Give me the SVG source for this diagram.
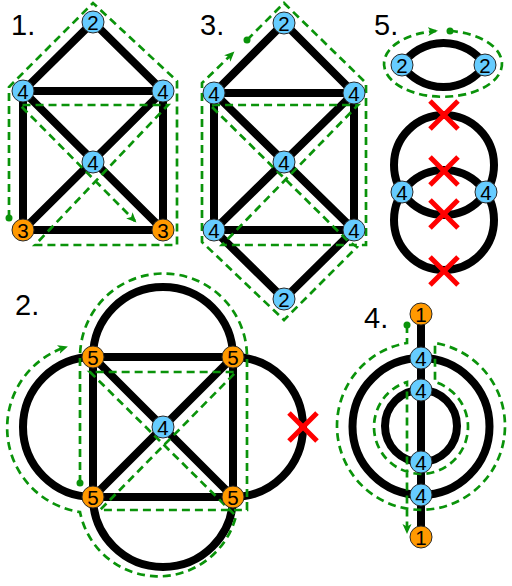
<svg xmlns="http://www.w3.org/2000/svg" xmlns:xlink="http://www.w3.org/1999/xlink" width="512" height="586" viewBox="0 0 512 586">
<style>
.e{stroke:#000;stroke-width:8;fill:none}
.g{stroke:#0a930a;stroke-width:2.7;stroke-dasharray:8 5;fill:none}
.dot{fill:#0a930a}
.b{fill:#66ccff;stroke:#2a2a2a;stroke-width:1}
.o{fill:#ff9900;stroke:#2a2a2a;stroke-width:1}
.n{font-family:"Liberation Sans",Arial,sans-serif;font-size:20.5px;text-anchor:middle;fill:#000}
.lbl{font-family:"Liberation Sans",Arial,sans-serif;font-size:29px;fill:#000}
.x{stroke:#ff0000;stroke-width:5;fill:none}
</style>
<defs>
<marker id="arr" markerUnits="userSpaceOnUse" markerWidth="11" markerHeight="11" refX="8" refY="5.5" orient="auto">
<path d="M0,1 L10,5.5 L0,10 L2.5,5.5 z" fill="#0a930a" stroke="none"/>
</marker>
<path id="xm" class="x" d="M-14,-14 L14,14 M14,-14 L-14,14"/>
</defs>
<rect width="512" height="586" fill="#fff"/>

<g id="labels">
<text class="lbl" x="11" y="35">1.</text>
<text class="lbl" x="200" y="35">3.</text>
<text class="lbl" x="374" y="35">5.</text>
<text class="lbl" x="15" y="315">2.</text>
<text class="lbl" x="364" y="328">4.</text>
</g>

<g id="edges">
<path class="e" d="M93,22 L23,91 M93,22 L163,91 M23,91 H163 M23,91 V230 M163,91 V230 M23,91 L163,230 M163,91 L23,230 M23,230 H163"/>
<path class="e" d="M284,23 L214,93 M284,23 L354,93 M214,93 H354 M214,93 V230 M354,93 V230 M214,93 L354,230 M354,93 L214,230 M214,230 H354 M214,230 L284,299 M354,230 L284,299"/>
<path class="e" d="M402,65 A50,50 0 0,1 485,65 M402,65 A50,50 0 0,0 485,65"/>
<circle class="e" cx="444" cy="165" r="50"/>
<circle class="e" cx="444" cy="220" r="50"/>
<path class="e" d="M93,357 H233 V497 H93 Z M93,357 L233,497 M233,357 L93,497"/>
<path class="e" d="M93,357 A70,70 0 0,1 233,357 M93,357 A70,70 0 0,0 93,497 M93,497 A70,70 0 0,0 233,497 M233,357 A70,70 0 0,1 233,497"/>
<path class="e" d="M421,314 V537"/>
<circle class="e" cx="421" cy="426.5" r="68.5"/>
<circle class="e" cx="421" cy="426" r="36"/>
</g>

<g id="paths">
<path class="g" marker-end="url(#arr)" d="M9,218 V87 L93,3 L177,81 V245 H35 L168,105 H20 L135,221"/>
<circle class="dot" cx="9" cy="218" r="3.5"/>
<path class="g" marker-end="url(#arr)" d="M247,40 L284,3 L366,83 V245 H222 L358,105 H210 L348,241 L357,247 L284,320 L202,242 V83 L233,53"/>
<circle class="dot" cx="247" cy="40" r="3.5"/>
<path class="g" marker-end="url(#arr)" d="M450,31 A59,33 0 1,1 436,31"/>
<circle class="dot" cx="450" cy="31" r="3.5"/>
<path class="g" marker-end="url(#arr)" d="M80,483 V357 A83.5,83.5 0 0,1 247,357 V510 H100 L236,372 H90 L236,516 A80,80 0 0,1 80,512 A85,85 0 0,1 66,347"/>
<circle class="dot" cx="80" cy="483" r="3.5"/>
<path class="g" marker-end="url(#arr)" d="M407,325 V343 A84,84 0 1,0 435,343 V382 A47,47 0 1,1 407,382 V532"/>
<circle class="dot" cx="407" cy="325" r="3.5"/>
</g>

<g id="p1-n1"><circle class="b" cx="93" cy="22" r="11"/><text class="n" x="93" y="29.5">2</text></g>
<g id="p1-n2"><circle class="b" cx="23" cy="91" r="11"/><text class="n" x="23" y="98.5">4</text></g>
<g id="p1-n3"><circle class="b" cx="163" cy="91" r="11"/><text class="n" x="163" y="98.5">4</text></g>
<g id="p1-n4"><circle class="b" cx="93" cy="162" r="11"/><text class="n" x="93" y="169.5">4</text></g>
<g id="p1-n5"><circle class="o" cx="23" cy="230" r="11"/><text class="n" x="23" y="237.5">3</text></g>
<g id="p1-n6"><circle class="o" cx="163" cy="230" r="11"/><text class="n" x="163" y="237.5">3</text></g>

<g id="p3-n1"><circle class="b" cx="284" cy="23" r="11"/><text class="n" x="284" y="30.5">2</text></g>
<g id="p3-n2"><circle class="b" cx="214" cy="93" r="11"/><text class="n" x="214" y="100.5">4</text></g>
<g id="p3-n3"><circle class="b" cx="354" cy="93" r="11"/><text class="n" x="354" y="100.5">4</text></g>
<g id="p3-n4"><circle class="b" cx="284" cy="162" r="11"/><text class="n" x="284" y="169.5">4</text></g>
<g id="p3-n5"><circle class="b" cx="214" cy="230" r="11"/><text class="n" x="214" y="237.5">4</text></g>
<g id="p3-n6"><circle class="b" cx="354" cy="230" r="11"/><text class="n" x="354" y="237.5">4</text></g>
<g id="p3-n7"><circle class="b" cx="284" cy="299" r="11"/><text class="n" x="284" y="306.5">2</text></g>

<g id="p5-n1"><circle class="b" cx="402" cy="65" r="11"/><text class="n" x="402" y="72.5">2</text></g>
<g id="p5-n2"><circle class="b" cx="485" cy="65" r="11"/><text class="n" x="485" y="72.5">2</text></g>
<g id="p5-n3"><circle class="b" cx="402" cy="192" r="11"/><text class="n" x="402" y="199.5">4</text></g>
<g id="p5-n4"><circle class="b" cx="486" cy="192" r="11"/><text class="n" x="486" y="199.5">4</text></g>

<g id="p2-n1"><circle class="o" cx="93" cy="357" r="11"/><text class="n" x="93" y="364.5">5</text></g>
<g id="p2-n2"><circle class="o" cx="233" cy="357" r="11"/><text class="n" x="233" y="364.5">5</text></g>
<g id="p2-n3"><circle class="o" cx="93" cy="497" r="11"/><text class="n" x="93" y="504.5">5</text></g>
<g id="p2-n4"><circle class="o" cx="233" cy="497" r="11"/><text class="n" x="233" y="504.5">5</text></g>
<g id="p2-n5"><circle class="b" cx="163" cy="427" r="11"/><text class="n" x="163" y="434.5">4</text></g>

<g id="p4-n1"><circle class="o" cx="421" cy="314" r="11"/><text class="n" x="421" y="321.5">1</text></g>
<g id="p4-n2"><circle class="b" cx="421" cy="358" r="11"/><text class="n" x="421" y="365.5">4</text></g>
<g id="p4-n3"><circle class="b" cx="421" cy="390" r="11"/><text class="n" x="421" y="397.5">4</text></g>
<g id="p4-n4"><circle class="b" cx="421" cy="462" r="11"/><text class="n" x="421" y="469.5">4</text></g>
<g id="p4-n5"><circle class="b" cx="421" cy="495" r="11"/><text class="n" x="421" y="502.5">4</text></g>
<g id="p4-n6"><circle class="o" cx="421" cy="537" r="11"/><text class="n" x="421" y="544.5">1</text></g>

<g id="crosses">
<use xlink:href="#xm" x="444" y="115"/>
<use xlink:href="#xm" x="444" y="171"/>
<use xlink:href="#xm" x="444" y="214"/>
<use xlink:href="#xm" x="444" y="271"/>
<use xlink:href="#xm" x="303" y="427"/>
</g>
</svg>
